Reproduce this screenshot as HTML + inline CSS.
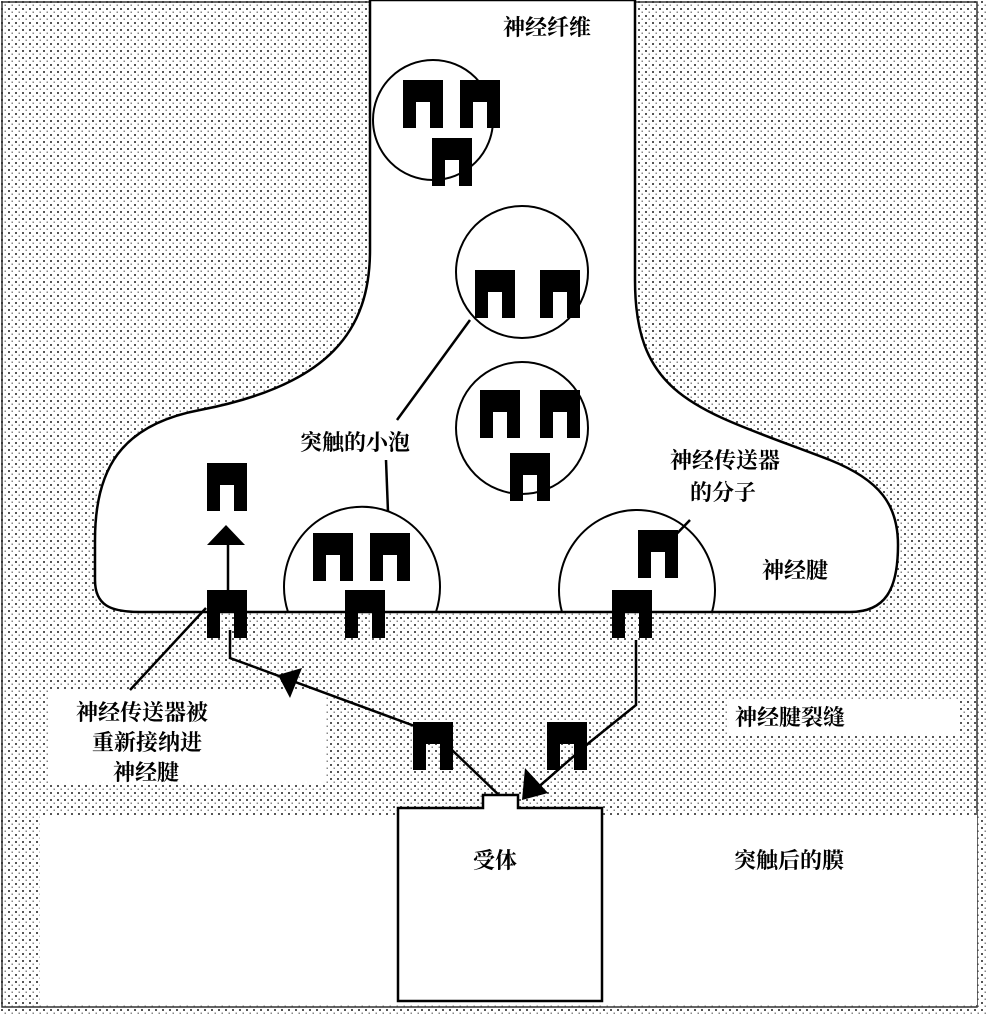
<!DOCTYPE html>
<html><head><meta charset="utf-8"><style>
html,body{margin:0;padding:0;background:#fff;}
svg{display:block}
text{font-family:"Liberation Serif","Noto Serif CJK SC",serif;font-weight:bold;font-size:22px;fill:#000}
</style></head><body>
<svg width="987" height="1016" viewBox="0 0 987 1016" xmlns="http://www.w3.org/2000/svg">
<defs>
<pattern id="dots" width="7" height="7" patternUnits="userSpaceOnUse">
<rect width="7" height="7" fill="#fff"/>
<rect x="1" y="1" width="2" height="2" fill="#555"/>
<rect x="4.5" y="4.5" width="1.5" height="1.5" fill="#888"/>
</pattern>
<g id="m"><path d="M0 0 H40 V48 H27 V22 H13 V48 H0 Z" fill="#000"/></g>
</defs>
<rect x="0" y="0" width="987" height="1016" fill="url(#dots)"/>
<rect x="2" y="2" width="975" height="1005" fill="none" stroke="#333" stroke-width="1.5"/>
<rect x="40" y="815" width="937" height="190" fill="#fff"/>
<rect x="50" y="690" width="275" height="95" fill="#fff"/>
<rect x="728" y="700" width="230" height="36" fill="#fff"/>
<path d="M370 0 V250 C370 330 330 385 200 410 C120 425 95 470 95 540 L95 580 C95 605 110 612 140 612 L850 612 C885 612 898 590 898 545 C898 505 880 480 830 460 C700 410 635 400 635 280 V0 Z" fill="#fff" stroke="#000" stroke-width="2.5"/>
<g fill="none" stroke="#000" stroke-width="2">
<circle cx="433" cy="120" r="60"/>
<circle cx="522" cy="272" r="66"/>
<circle cx="522" cy="428" r="66"/>
<path d="M288 612 A78 80 0 1 1 436 612"/>
<path d="M562 612 A78 80 0 1 1 712 612"/>
</g>
<use href="#m" x="403" y="80"/><use href="#m" x="460" y="80"/><use href="#m" x="432" y="138"/>
<use href="#m" x="475" y="270"/><use href="#m" x="540" y="270"/>
<use href="#m" x="480" y="390"/><use href="#m" x="540" y="390"/><use href="#m" x="510" y="453"/>
<use href="#m" x="313" y="533"/><use href="#m" x="370" y="533"/><use href="#m" x="345" y="590"/>
<use href="#m" x="638" y="530"/>
<use href="#m" x="207" y="463"/>
<use href="#m" x="207" y="590"/>
<use href="#m" x="612" y="590"/>
<use href="#m" x="413" y="722"/>
<use href="#m" x="547" y="722"/>
<g stroke="#000" stroke-width="2.5" fill="none">
<line x1="228" y1="590" x2="228" y2="540"/>
<polyline points="230,630 230,658 420,728"/>
<line x1="452" y1="750" x2="502" y2="798"/>
<polyline points="636,640 636,705 590,742 535,790"/>
<line x1="470" y1="320" x2="397" y2="420"/>
<line x1="386" y1="460" x2="388" y2="512"/>
<line x1="690" y1="520" x2="664" y2="547"/>
<line x1="206" y1="608" x2="130" y2="690"/>
</g>
<polygon points="207,545 245,545 226,525" fill="#000"/>
<polygon points="278,675 302,668 290,698" fill="#000"/>
<polygon points="522,800 525,768 548,793" fill="#000"/>
<path d="M398 1001 V808 H483 V795 H518 V808 H602 V1001 Z" fill="#fff" stroke="#000" stroke-width="2.5"/>
<text x="503" y="35">神经纤维</text>
<text x="300" y="450">突触的小泡</text>
<text x="670" y="468">神经传送器</text>
<text x="690" y="500">的分子</text>
<text x="762" y="578">神经腱</text>
<text x="76" y="720">神经传送器被</text>
<text x="92" y="750">重新接纳进</text>
<text x="113" y="780">神经腱</text>
<text x="735" y="725">神经腱裂缝</text>
<text x="734" y="868">突触后的膜</text>
<text x="473" y="868">受体</text>
</svg>
</body></html>
